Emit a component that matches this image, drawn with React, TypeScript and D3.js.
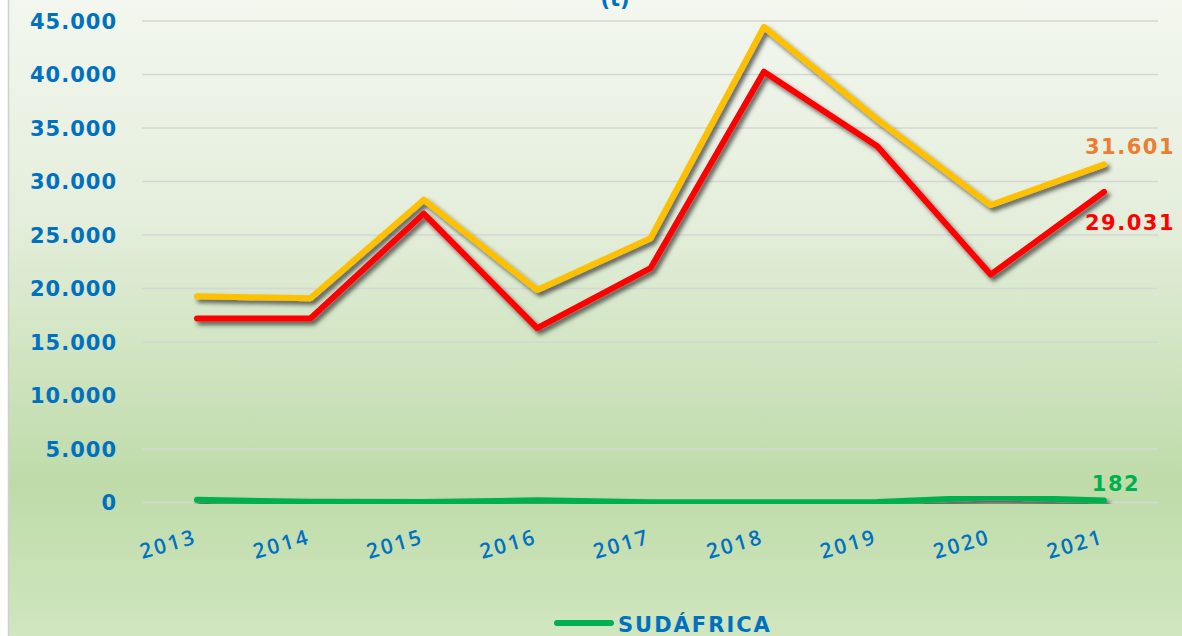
import React from "react";
import * as d3 from "d3";

const years = ["2013", "2014", "2015", "2016", "2017", "2018", "2019", "2020", "2021"];
const totalSeries = [19280, 19080, 28300, 19860, 24700, 44450, 35800, 27800, 31601];
const otherSeries = [17200, 17200, 27000, 16300, 21900, 40260, 33300, 21300, 29031];
const sudafrica = [250, 60, 40, 200, 30, 20, 40, 500, 182];
const yTicks = [0, 5000, 10000, 15000, 20000, 25000, 30000, 35000, 40000, 45000];

const W = 1182;
const H = 636;
const FONT = "'DejaVu Sans', sans-serif";
const BLUE = "#0070C0";

const fmt = (v: number) => {
  const s = d3.format(",")(v);
  return s.replace(/,/g, ".");
};

export default function App() {
  const x = d3.scalePoint<string>().domain(years).range([197, 1104]);
  const y = d3.scaleLinear().domain([0, 45000]).range([502.5, 21]);
  const line = d3
    .line<number>()
    .x((_, i) => x(years[i]) as number)
    .y((d) => y(d));

  const series = [
    { data: totalSeries, color: "#FFC000" },
    { data: otherSeries, color: "#FF0000" },
    { data: sudafrica, color: "#00B050" },
  ];
  const last = years.length - 1;
  const lx = x(years[last]) as number;

  return (
    <svg
      width={W}
      height={H}
      style={{ position: "absolute", left: 0, top: 0, display: "block" }}
    >
      <defs>
        <linearGradient id="bg" x1="0" y1="0" x2="0" y2="1">
          <stop offset="0%" stopColor="#f3f7ef" />
          <stop offset="35%" stopColor="#e4eedb" />
          <stop offset="76%" stopColor="#bedba9" />
          <stop offset="100%" stopColor="#d0e6bf" />
        </linearGradient>
        <filter id="sh" x="-10%" y="-10%" width="120%" height="130%">
          <feDropShadow dx="3" dy="3.5" stdDeviation="2.2" floodColor="#000" floodOpacity="0.6" />
        </filter>
      </defs>
      <rect x={0} y={0} width={W} height={H} fill="#ffffff" />
      <rect x={9} y={0} width={W - 9} height={H} fill="url(#bg)" />
      <line x1={8.5} x2={8.5} y1={0} y2={H} stroke="#d0d0d0" strokeWidth={1.5} />

      <text x={615} y={6} textAnchor="middle" fill={BLUE} fontFamily={FONT} fontWeight="bold" fontSize={21}>
        (t)
      </text>

      {yTicks.map((t) => (
        <g key={t}>
          <line x1={142} x2={1158} y1={y(t)} y2={y(t)} stroke="#d6d6d6" strokeWidth={1.5} />
          <text
            x={117}
            y={y(t) + 7.5}
            textAnchor="end"
            fill={BLUE}
            fontFamily={FONT}
            fontWeight="bold"
            fontSize={21}
            letterSpacing={1}
          >
            {fmt(t)}
          </text>
        </g>
      ))}

      {years.map((yr) => (
        <text
          key={yr}
          transform={`translate(${(x(yr) as number) + 1},${543}) rotate(-16)`}
          textAnchor="end"
          fill={BLUE}
          fontFamily="'Open Sans', sans-serif"
          fontWeight={600}
          fontSize={21}
          letterSpacing={2.5}
        >
          {yr}
        </text>
      ))}

      {series.map((s, i) => (
        <path
          key={i}
          d={line(s.data) || ""}
          fill="none"
          stroke={s.color}
          strokeWidth={6}
          strokeLinecap="round"
          strokeLinejoin="round"
          filter="url(#sh)"
        />
      ))}

      <text x={lx + 26} y={y(totalSeries[last]) - 10} textAnchor="middle" fill="#ED7D31" fontFamily={FONT} fontWeight="bold" fontSize={21} letterSpacing={1.5}>
        {fmt(totalSeries[last])}
      </text>
      <text x={lx + 26} y={y(otherSeries[last]) + 38} textAnchor="middle" fill="#FF0000" fontFamily={FONT} fontWeight="bold" fontSize={21} letterSpacing={1.5}>
        {fmt(otherSeries[last])}
      </text>
      <text x={lx + 12} y={y(sudafrica[last]) - 10} textAnchor="middle" fill="#00B050" fontFamily={FONT} fontWeight="bold" fontSize={21} letterSpacing={1.5}>
        {fmt(sudafrica[last])}
      </text>

      <line x1={557} x2={611} y1={623} y2={623} stroke="#00B050" strokeWidth={6} strokeLinecap="round" />
      <text x={618} y={632} fill={BLUE} fontFamily={FONT} fontWeight="bold" fontSize={21} letterSpacing={2}>
        SUDÁFRICA
      </text>
    </svg>
  );
}
